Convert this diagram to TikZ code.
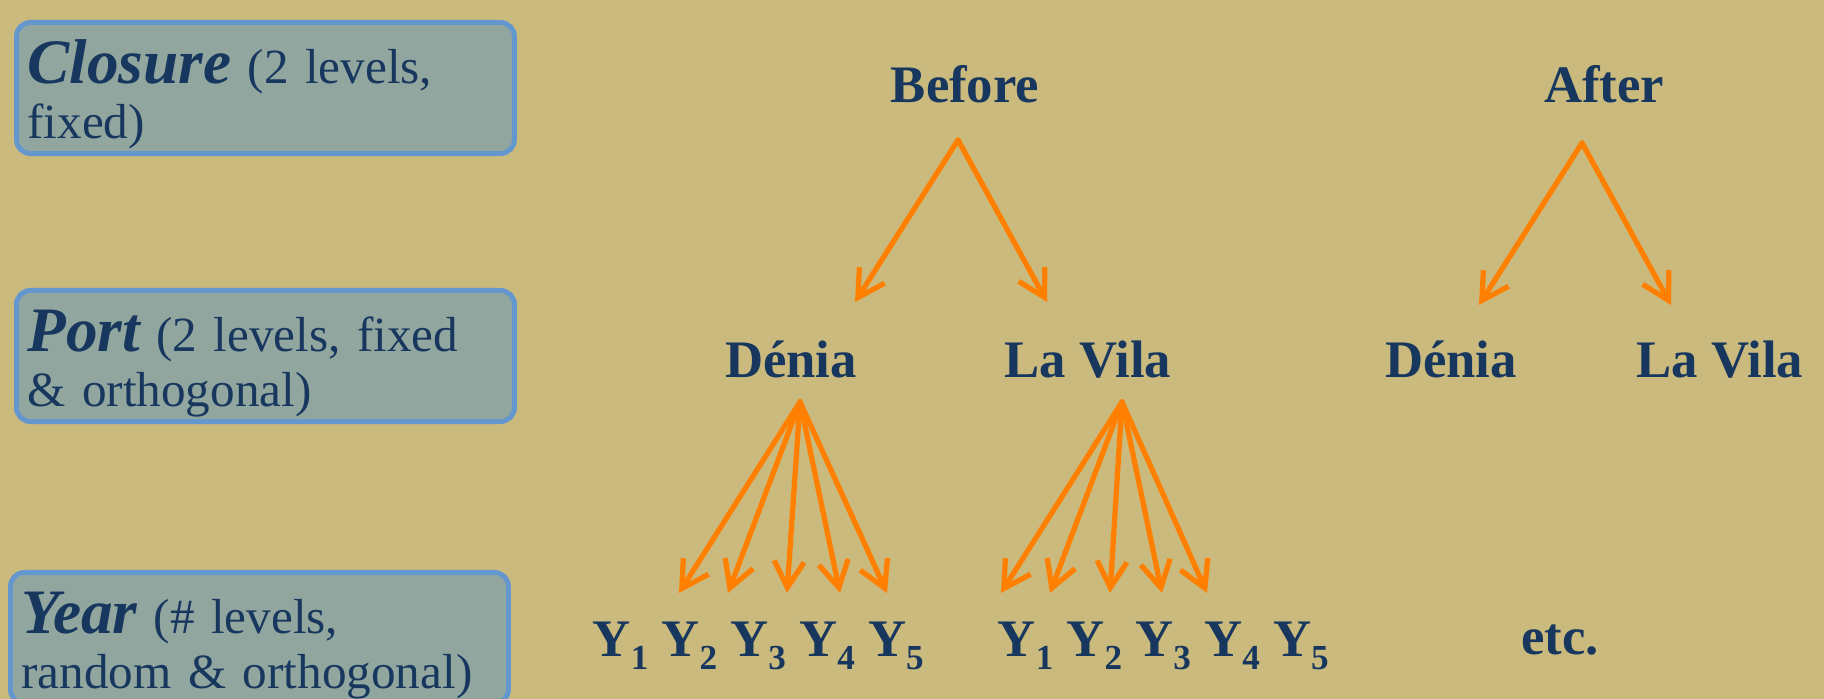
\documentclass[tikz,border=0pt]{standalone}
\usepackage{fontspec}
\setmainfont{Liberation Serif}
\usetikzlibrary{arrows.meta}

\definecolor{fondo}{RGB}{203,186,125}
\definecolor{caja}{RGB}{146,166,160}
\definecolor{borde}{RGB}{99,151,205}
\definecolor{azul}{RGB}{23,55,94}
\definecolor{naranja}{RGB}{255,128,0}

\newcommand{\ysub}[1]{\raisebox{-3.6pt}{\fontsize{10}{12}\selectfont #1}}
\newcommand{\factor}[1]{{\fontsize{18}{18}\selectfont\bfseries\itshape #1}}

\tikzset{
    factorbox/.style={draw=borde, fill=caja, line width=1.4pt, rounded corners=4pt,
        anchor=north west, minimum width=4.98cm, text width=4.76cm, align=left,
        inner xsep=0.11cm, inner ysep=0pt, text=azul, font=\fontsize{14}{15.4}\selectfont,
        execute at begin node=\rule{0pt}{17.5pt},
        execute at end node=\rule[-4.4pt]{0pt}{4.4pt}},
    nivel/.style={text=azul, font=\fontsize{15}{18}\selectfont\bfseries, anchor=base, inner sep=0pt},
    flecha/.style={naranja, line width=1.5pt, line cap=round, line join=round,
        -{Straight Barb[length=7.5pt,width=8.5pt]}}
}

\begin{document}
\begin{tikzpicture}
    % Fondo
    \fill[fondo] (0,0) rectangle (18.24,6.99);
    \useasboundingbox (0,0) rectangle (18.24,6.99);

    % Cajas de factores
    \node[factorbox] (closure) at (0.14,6.79) {\factor{Closure} (2 levels,\\fixed)};
    \node[factorbox] (port) at (0.14,4.11) {\factor{Port} (2 levels, fixed\\\& orthogonal)};
    \node[factorbox] (year) at (0.08,1.29) {\factor{Year} (\# levels,\\random \& orthogonal)};

    % Niveles
    \node[nivel] (before) at (9.65,5.96) {Before};
    \node[nivel] (after) at (16.04,5.96) {After};
    \node[nivel] (deniaL) at (7.91,3.21) {Dénia};
    \node[nivel] (vilaL) at (10.88,3.21) {La Vila};
    \node[nivel] (deniaR) at (14.51,3.21) {Dénia};
    \node[nivel] (vilaR) at (17.20,3.21) {La Vila};
    \node[nivel, anchor=base west] (yearsL) at (5.92,0.42) {Y\ysub{1} Y\ysub{2} Y\ysub{3} Y\ysub{4} Y\ysub{5}};
    \node[nivel, anchor=base west] (yearsR) at (9.97,0.42) {Y\ysub{1} Y\ysub{2} Y\ysub{3} Y\ysub{4} Y\ysub{5}};
    \node[nivel] (etc) at (15.60,0.44) {etc.};

    % Puntos de las flechas
    \coordinate (bTop) at (9.58,5.59);
    \coordinate (bL) at (8.55,3.97);
    \coordinate (bR) at (10.47,3.97);
    \coordinate (aTop) at (15.82,5.56);
    \coordinate (aL) at (14.79,3.94);
    \coordinate (aR) at (16.71,3.94);
    \coordinate (dTop) at (8.00,2.97);
    \coordinate (vTop) at (11.22,2.97);

    % Flechas Closure -> Port
    \draw[flecha] (bTop) -- (bL);
    \draw[flecha] (bTop) -- (bR);
    \draw[flecha] (aTop) -- (aL);
    \draw[flecha] (aTop) -- (aR);

    % Flechas Port -> Year
    \foreach \x [count=\i] in {6.79,7.28,7.87,8.40,8.87} {
        \coordinate (dY\i) at (\x,1.06);
        \draw[flecha] (dTop) -- (dY\i);
    }
    \foreach \x [count=\i] in {10.01,10.50,11.10,11.62,12.07} {
        \coordinate (vY\i) at (\x,1.06);
        \draw[flecha] (vTop) -- (vY\i);
    }
\end{tikzpicture}
\end{document}
